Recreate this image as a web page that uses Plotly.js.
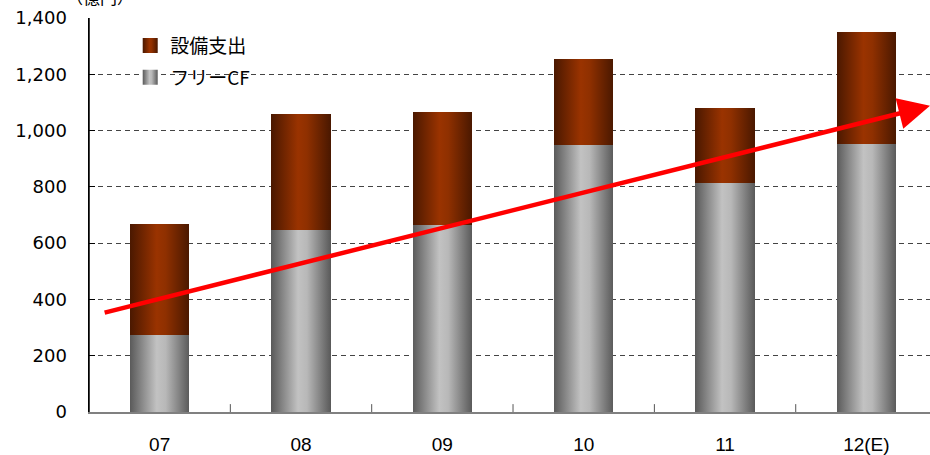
<!DOCTYPE html>
<html>
<head>
<meta charset="utf-8">
<script src="https://cdn.plot.ly/plotly-3.0.1.min.js"></script>
<style>html,body{margin:0;padding:0;background:#fff;overflow:hidden}#chart{width:930px;height:455px}</style>
</head>
<body>
<div id="chart"></div>
<script>
const categories = ["07", "08", "09", "10", "11", "12(E)"];
const freeCF = [275, 645, 665, 948, 814, 952];
const capex = [393, 414, 401, 306, 266, 399];
const seriesNames = ["フリーCF", "設備支出"];
const yTicks = [0, 200, 400, 600, 800, 1000, 1200, 1400];
const yTickLabels = ["0", "200", "400", "600", "800", "1,000", "1,200", "1,400"];
const trendStart = [-0.4, 352];
const trendEnd = [5.45, 1088];
const unitLabel = "（億円）";

const catIdx = categories.map((c, i) => i);

const traces = [
  {type: "bar", name: seriesNames[0], legendgroup: "a", legendrank: 2, x: catIdx, y: freeCF, width: 0.42,
   marker: {color: "#a0a0a0", line: {width: 0}}, hoverinfo: "skip"},
  {type: "bar", name: seriesNames[1], legendgroup: "b", legendrank: 1, x: catIdx, y: capex, width: 0.42,
   marker: {color: "#7a2800", line: {width: 0}}, hoverinfo: "skip"}
];

const layout = {
  width: 930, height: 455,
  margin: {l: 89, r: 0, t: 18, b: 43},
  paper_bgcolor: "#fff", plot_bgcolor: "#fff",
  barmode: "stack",
  showlegend: true,
  legend: {x: 0.049, y: 0.978, xanchor: "left", yanchor: "top", xref: "paper", yref: "paper",
    bgcolor: "rgba(255,255,255,0)", traceorder: "grouped", tracegroupgap: 4,
    borderwidth: 0, font: {family: "Noto Sans CJK JP", size: 19, color: "#000"}},
  xaxis: {
    range: [-0.5, 5.45], tickmode: "array", tickvals: catIdx, ticktext: categories,
    showline: true, linecolor: "#808080", linewidth: 2, showgrid: false, zeroline: false,
    ticks: "", ticklabelstandoff: 14,
    tickfont: {family: "Liberation Sans Narrow, Liberation Sans", size: 19, color: "#000"}
  },
  yaxis: {
    range: [0, 1400], tickmode: "array", tickvals: yTicks, ticktext: yTickLabels,
    showline: true, linecolor: "#000", linewidth: 1.5,
    ticks: "inside", ticklen: 6, tickcolor: "#000", tickwidth: 1,
    showgrid: true, gridcolor: "#444", griddash: "5px,4px", gridwidth: 1,
    zeroline: false, ticklabelstandoff: 17,
    tickfont: {family: "DejaVu Sans", size: 18, color: "#000"}
  },
  annotations: [
    {x: trendEnd[0], y: trendEnd[1], ax: trendStart[0], ay: trendStart[1],
     xref: "x", yref: "y", axref: "x", ayref: "y", text: "", showarrow: true,
     arrowhead: 2, arrowsize: 1.4, arrowwidth: 4.5, arrowcolor: "#ff0000", standoff: 0},
    {x: 0.013, y: 1, xref: "paper", yref: "paper", text: unitLabel, showarrow: false,
     xanchor: "center", yanchor: "middle", yshift: 22,
     font: {family: "Noto Sans CJK JP", size: 17, color: "#000"}}
  ]
};

// short tick marks on category boundaries (pointing up from the axis)
layout.shapes = catIdx.slice(0, -1).map(i => ({
  type: "line", xref: "x", yref: "y", x0: i + 0.5, x1: i + 0.5, y0: 0, y1: 28,
  line: {color: "#555", width: 1}
}));
// white panel behind the legend hiding the gridline
layout.shapes.push({type: "rect", xref: "paper", yref: "paper", layer: "between",
  x0: 0.004, x1: 0.257, y0: 0.8, y1: 0.975, fillcolor: "#fff", line: {width: 0}});
// vertical axis line
layout.shapes.push({type: "line", xref: "paper", yref: "paper", layer: "above",
  x0: 0, x1: 0, y0: 0, y1: 1, line: {color: "#000", width: 1.5}});

Plotly.newPlot("chart", traces, layout, {staticPlot: true}).then(gd => {
  const svg = gd.querySelector("svg.main-svg");
  const ns = "http://www.w3.org/2000/svg";
  let defs = svg.querySelector("defs");
  if (!defs) { defs = document.createElementNS(ns, "defs"); svg.insertBefore(defs, svg.firstChild); }
  function grad(id, stops) {
    const g = document.createElementNS(ns, "linearGradient");
    g.setAttribute("id", id);
    g.setAttribute("x1", "0"); g.setAttribute("x2", "1");
    g.setAttribute("y1", "0"); g.setAttribute("y2", "0");
    stops.forEach(([o, c]) => {
      const s = document.createElementNS(ns, "stop");
      s.setAttribute("offset", o); s.setAttribute("stop-color", c);
      g.appendChild(s);
    });
    defs.appendChild(g);
  }
  grad("gGray", [[0, "#5a5a5a"], [0.45, "#c2c2c2"], [0.6, "#b8b8b8"], [1, "#5a5a5a"]]);
  grad("gBrown", [[0, "#4a1800"], [0.45, "#9a3300"], [0.6, "#8f3000"], [1, "#4a1800"]]);
  const ids = ["gGray", "gBrown"];
  gd.querySelectorAll("g.barlayer g.trace").forEach((t, i) => {
    t.querySelectorAll("path").forEach(p => p.style.fill = "url(#" + ids[i] + ")");
  });
  gd.querySelectorAll("g.legend g.traces").forEach(t => {
    const name = t.textContent;
    const id = name.indexOf("CF") >= 0 ? "gGray" : "gBrown";
    t.querySelectorAll(".legendpoints path").forEach(p => {
      p.style.fill = "url(#" + id + ")";
      p.setAttribute("transform", (p.getAttribute("transform") || "") + " scale(1.25)");
    });
  });
});
</script>
</body>
</html>
